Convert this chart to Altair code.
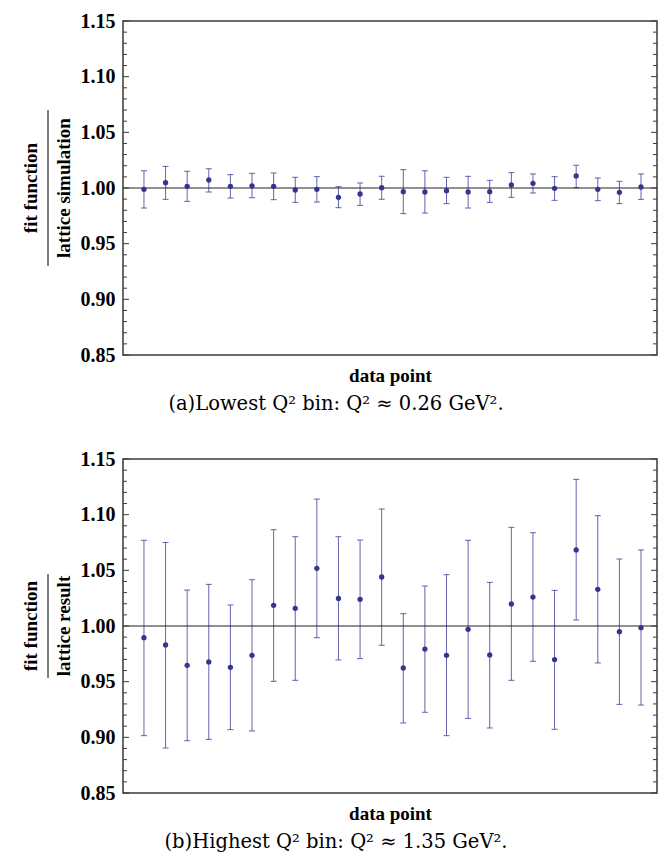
import altair as alt
import pandas as pd

points = list(range(1, 25))

# Panel (a): lowest Q^2 bin
low_val = [0.9988, 1.0048, 1.0015, 1.0072, 1.0015, 1.0020, 1.0015, 0.9982,
           0.9988, 0.9916, 0.9946, 1.0003, 0.9967, 0.9964, 0.9976, 0.9964,
           0.9967, 1.0027, 1.0042, 0.9997, 1.0108, 0.9988, 0.9961, 1.0009]
low_lo = [0.9820, 0.9898, 0.9880, 0.9964, 0.9910, 0.9913, 0.9895, 0.9871,
          0.9874, 0.9823, 0.9844, 0.9898, 0.9770, 0.9775, 0.9860, 0.9820,
          0.9871, 0.9916, 0.9955, 0.9889, 1.0003, 0.9886, 0.9860, 0.9898]
low_hi = [1.0155, 1.0194, 1.0150, 1.0173, 1.0120, 1.0132, 1.0135, 1.0096,
          1.0102, 1.0012, 1.0045, 1.0105, 1.0165, 1.0155, 1.0096, 1.0105,
          1.0069, 1.0138, 1.0126, 1.0102, 1.0204, 1.0090, 1.0060, 1.0126]

# Panel (b): highest Q^2 bin
high_val = [0.9895, 0.9830, 0.9647, 0.9677, 0.9629, 0.9737, 1.0186, 1.0159,
            1.0518, 1.0248, 1.0240, 1.0440, 0.9623, 0.9793, 0.9737, 0.9970,
            0.9740, 1.0198, 1.0260, 0.9698, 1.0683, 1.0329, 0.9949, 0.9985]
high_lo = [0.9015, 0.8904, 0.8970, 0.8982, 0.9069, 0.9057, 0.9503, 0.9512,
           0.9895, 0.9695, 0.9707, 0.9826, 0.9129, 0.9225, 0.9015, 0.9170,
           0.9084, 0.9512, 0.9683, 0.9072, 1.0054, 0.9668, 0.9296, 0.9290]
high_hi = [1.0770, 1.0750, 1.0323, 1.0374, 1.0189, 1.0416, 1.0865, 1.0802,
           1.1140, 1.0802, 1.0772, 1.1050, 1.0111, 1.0359, 1.0461, 1.0770,
           1.0392, 1.0886, 1.0838, 1.0320, 1.1317, 1.0991, 1.0602, 1.0683]

y_major = [0.85, 0.90, 0.95, 1.00, 1.05, 1.10, 1.15]
y_minor = [0.86, 0.87, 0.88, 0.89, 0.91, 0.92, 0.93, 0.94, 0.96, 0.97, 0.98,
           0.99, 1.01, 1.02, 1.03, 1.04, 1.06, 1.07, 1.08, 1.09, 1.11, 1.12,
           1.13, 1.14]
reference_line = [1.0]

W, H = 534, 334
SERIF = "Liberation Serif"
CAPFONT = "DejaVu Serif"
PT = "#35358f"
BAR = "#3d3d99"
FRAME = "#3a3a3a"


def panel(vals, lo, hi, num, den, bar_len, caption):
    df = pd.DataFrame({"i": points, "v": vals, "lo": lo, "hi": hi})
    xs = alt.Scale(domain=[0.03, 24.74], nice=False, zero=False)
    ys = alt.Scale(domain=[0.85, 1.15], nice=False, zero=False)
    xaxis = alt.Axis(title="data point", labels=False, ticks=False,
                     domain=False, grid=False, titleFont=SERIF,
                     titleFontSize=19, titleFontWeight="bold",
                     titleColor="#000", titlePadding=11)
    yaxis = alt.Axis(values=y_major, format=".2f", ticks=False,
                     domain=False, grid=False, title=None,
                     labelFont=SERIF, labelFontSize=20,
                     labelFontWeight="bold", labelColor="#000",
                     labelPadding=8)

    def X(f):
        return alt.X(f, scale=xs, axis=xaxis)

    def Y(f):
        return alt.Y(f, scale=ys, axis=yaxis)

    base = alt.Chart(df)

    bars = base.mark_rule(color=BAR, strokeWidth=1, opacity=0.8).encode(
        x=X("i:Q"), y=Y("lo:Q"), y2="hi:Q")
    cap_top = base.mark_tick(orient="horizontal", size=6, thickness=1,
                             color=BAR, opacity=0.8).encode(
        x=X("i:Q"), y=Y("hi:Q"))
    cap_bot = base.mark_tick(orient="horizontal", size=6, thickness=1,
                             color=BAR, opacity=0.8).encode(
        x=X("i:Q"), y=Y("lo:Q"))
    pts = base.mark_circle(size=28, color=PT, opacity=1).encode(
        x=X("i:Q"), y=Y("v:Q"))

    ref = alt.Chart(pd.DataFrame({"r": reference_line})).mark_rule(
        color="#222222", strokeWidth=1.2).encode(y=Y("r:Q"))

    maj = pd.DataFrame({"t": y_major})
    mnr = pd.DataFrame({"t": y_minor})
    tl_maj = alt.Chart(maj).mark_rule(color=FRAME, strokeWidth=1).encode(
        y=Y("t:Q"), x=alt.value(0), x2=alt.value(6))
    tr_maj = alt.Chart(maj).mark_rule(color=FRAME, strokeWidth=1).encode(
        y=Y("t:Q"), x=alt.value(W - 6), x2=alt.value(W))
    tl_min = alt.Chart(mnr).mark_rule(color=FRAME, strokeWidth=1).encode(
        y=Y("t:Q"), x=alt.value(0), x2=alt.value(4))
    tr_min = alt.Chart(mnr).mark_rule(color=FRAME, strokeWidth=1).encode(
        y=Y("t:Q"), x=alt.value(W - 4), x2=alt.value(W))

    t_num = alt.Chart(pd.DataFrame({"s": [num]})).mark_text(
        angle=270, font=SERIF, fontSize=19, fontWeight="bold", color="#000",
        align="center", baseline="middle").encode(
        text="s:N", x=alt.value(-92), y=alt.value(H / 2))
    t_den = alt.Chart(pd.DataFrame({"s": [den]})).mark_text(
        angle=270, font=SERIF, fontSize=19, fontWeight="bold", color="#000",
        align="center", baseline="middle").encode(
        text="s:N", x=alt.value(-59), y=alt.value(H / 2))
    t_bar = alt.Chart(pd.DataFrame({"s": [num]})).mark_rule(
        color="#000", strokeWidth=1).encode(
        x=alt.value(-75), y=alt.value(H / 2 - bar_len / 2),
        y2=alt.value(H / 2 + bar_len / 2))

    return alt.layer(
        bars, cap_top, cap_bot, ref, tl_maj, tr_maj, tl_min, tr_min,
        pts, t_num, t_den, t_bar
    ).properties(
        width=W, height=H,
        title=alt.TitleParams(text=caption, orient="bottom", font=CAPFONT,
                              fontSize=19.5, fontWeight="normal", color="#000",
                              offset=10, anchor="middle", dx=-54),
    )


p1 = panel(low_val, low_lo, low_hi, "fit function", "lattice simulation",
           156, "(a)Lowest Q\u00b2 bin: Q\u00b2 \u2248 0.26 GeV\u00b2.")
p2 = panel(high_val, high_lo, high_hi, "fit function", "lattice result",
           104, "(b)Highest Q\u00b2 bin: Q\u00b2 \u2248 1.35 GeV\u00b2.")

chart = alt.vconcat(p1, p2, spacing=33).properties(
    padding={"left": 21, "top": 10, "right": 5, "bottom": 5},
    background="white",
).configure_view(stroke=FRAME, strokeWidth=1.5)

chart.save("out.html", embed_options={"renderer": "svg", "actions": False})
